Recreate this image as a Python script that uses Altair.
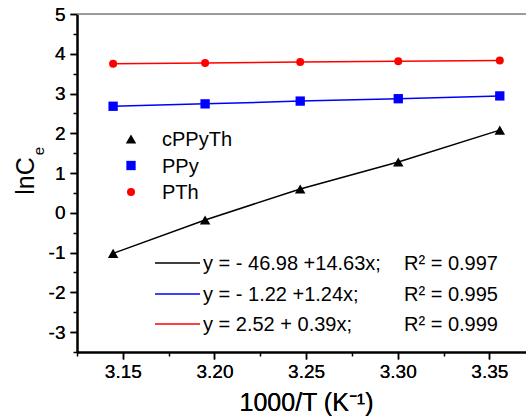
import altair as alt
import pandas as pd

# ---- data ----
x_vals = [3.1447, 3.1949, 3.2468, 3.3003, 3.3557]
series_names = ["cPPyTh", "PPy", "PTh"]
cppyth = [-1.02, -0.18, 0.60, 1.28, 2.08]
ppy = [2.68, 2.74, 2.81, 2.87, 2.94]
pth = [3.75, 3.77, 3.79, 3.81, 3.83]
colors = ["#000000", "#0000ff", "#ff0000"]
shapes = ["triangle-up", "square", "circle"]
fit_equations = ["y = - 46.98 +14.63x;", "y = - 1.22 +1.24x;", "y = 2.52 + 0.39x;"]
r_squared = ["R\u00b2 = 0.997", "R\u00b2 = 0.995", "R\u00b2 = 0.999"]
y_major = [-3, -2, -1, 0, 1, 2, 3, 4, 5]
y_minor = [-3.5, -2.5, -1.5, -0.5, 0.5, 1.5, 2.5, 3.5, 4.5]
x_major = [3.15, 3.20, 3.25, 3.30, 3.35]
x_minor = [3.125, 3.175, 3.225, 3.275, 3.325]
x_domain = [3.125, 3.37]
y_domain = [-3.5, 5]

FONT = "Liberation Sans"
W, H = 449, 338

rows = []
for name, vals in zip(series_names, [cppyth, ppy, pth]):
    for xv, yv in zip(x_vals, vals):
        rows.append({"series": name, "x": xv, "y": yv})
df = pd.DataFrame(rows)

xs = alt.Scale(domain=x_domain, nice=False, zero=False)
ys = alt.Scale(domain=y_domain, nice=False, zero=False)
color_scale = alt.Scale(domain=series_names, range=colors)
shape_scale = alt.Scale(domain=series_names, range=shapes)

x_axis = alt.Axis(values=x_major, format=".2f", grid=False, tickSize=7, tickWidth=1.5,
                  tickColor="black", domainColor="black", domainWidth=2,
                  labelFont=FONT, labelFontSize=19, labelColor="black", labelPadding=3,
                  title="1000/T (K\u207b\u00b9)", titleFont=FONT, titleFontSize=25,
                  titleFontWeight="normal", titleColor="black",
                  titleX=229, titleY=58, titleAlign="center", titleBaseline="alphabetic",
                  orient="bottom")
y_axis = alt.Axis(values=y_major, labelExpr="'' + datum.value", grid=False, tickSize=7,
                  tickWidth=1.5, tickColor="black", domainColor="black", domainWidth=2,
                  labelFont=FONT, labelFontSize=19, labelColor="black", labelPadding=5,
                  title=None, orient="left")

lines = alt.Chart(df).mark_line(strokeWidth=1.5).encode(
    x=alt.X("x:Q", scale=xs, axis=x_axis),
    y=alt.Y("y:Q", scale=ys, axis=y_axis),
    color=alt.Color("series:N", scale=color_scale, legend=None),
    detail="series:N",
)

points = alt.Chart(df).mark_point(filled=True, opacity=1).encode(
    x=alt.X("x:Q", scale=xs, axis=x_axis),
    y=alt.Y("y:Q", scale=ys, axis=y_axis),
    color=alt.Color("series:N", scale=color_scale, legend=None),
    shape=alt.Shape("series:N", scale=shape_scale, legend=None),
    size=alt.Size("series:N", scale=alt.Scale(domain=series_names, range=[110, 64, 80]), legend=None),
)

# top border line + minor ticks axes
top_df = pd.DataFrame({"x": [x_domain[0]], "x2": [x_domain[1]], "y": [y_domain[1]]})
top = alt.Chart(top_df).mark_rule(color="#808080", strokeWidth=1.5).encode(
    x=alt.X("x:Q", scale=xs, axis=alt.Axis(values=x_minor, labels=False, domain=False, grid=False,
                                           tickSize=4, tickWidth=1.5, tickColor="black",
                                           title=None, orient="bottom")),
    x2="x2:Q",
    y=alt.Y("y:Q", scale=ys, axis=alt.Axis(values=y_minor, labels=False, domain=False, grid=False,
                                           tickSize=4, tickWidth=1.5, tickColor="black",
                                           title=None, orient="left")),
)

# symbol legend (annotation)
leg_df = pd.DataFrame({"series": series_names, "py": [125, 151.5, 178]})
leg_pts = alt.Chart(leg_df).mark_point(filled=True, opacity=1).encode(
    x=alt.value(54), y=alt.Y("py:Q", scale=None),
    color=alt.Color("series:N", scale=color_scale, legend=None),
    shape=alt.Shape("series:N", scale=shape_scale, legend=None),
    size=alt.Size("series:N", scale=alt.Scale(domain=series_names, range=[60, 36, 48]), legend=None),
)
leg_txt = alt.Chart(leg_df).mark_text(align="left", baseline="middle", font=FONT, fontSize=20,
                                      color="black", dy=1).encode(
    x=alt.value(85), y=alt.Y("py:Q", scale=None), text="series:N")

# equation legend (annotation)
eq_df = pd.DataFrame({
    "series": series_names,
    "eq": fit_equations,
    "r2": r_squared,
    "py": [249, 280, 310],
})
eq_lines = alt.Chart(eq_df).mark_rule(strokeWidth=1.5).encode(
    x=alt.value(78), x2=alt.value(123),
    y=alt.Y("py:Q", scale=None),
    color=alt.Color("series:N", scale=color_scale, legend=None),
)
eq_text = alt.Chart(eq_df).mark_text(align="left", baseline="middle", font=FONT, fontSize=20,
                                     color="black", dy=1).encode(
    x=alt.value(126), y=alt.Y("py:Q", scale=None), text="eq:N")
r2_text = alt.Chart(eq_df).mark_text(align="left", baseline="middle", font=FONT, fontSize=20,
                                     color="black", dy=1).encode(
    x=alt.value(327), y=alt.Y("py:Q", scale=None), text="r2:N")

# y title: lnC with subscript e
ytitle = alt.Chart(pd.DataFrame({"t": ["lnC"]})).mark_text(
    angle=270, align="center", baseline="alphabetic", font=FONT, fontSize=25, color="black"
).encode(x=alt.value(-43), y=alt.value(162), text="t:N")
ysub = alt.Chart(pd.DataFrame({"t": ["e"]})).mark_text(
    angle=270, align="center", baseline="alphabetic", font=FONT, fontSize=15, color="black"
).encode(x=alt.value(-33), y=alt.value(137), text="t:N")

chart = alt.layer(top, lines, points, leg_pts, leg_txt, eq_lines, eq_text, r2_text,
                  ytitle, ysub).resolve_axis(
    x="independent", y="independent"
).resolve_scale(x="shared", y="shared").properties(
    width=W, height=H,
    autosize=alt.AutoSizeParams(type="none"),
    padding={"left": 77, "top": 14, "right": 0, "bottom": 67},
).configure_view(stroke=None).configure(background="white")

chart.save("out.html", embed_options={"renderer": "svg", "actions": False})
